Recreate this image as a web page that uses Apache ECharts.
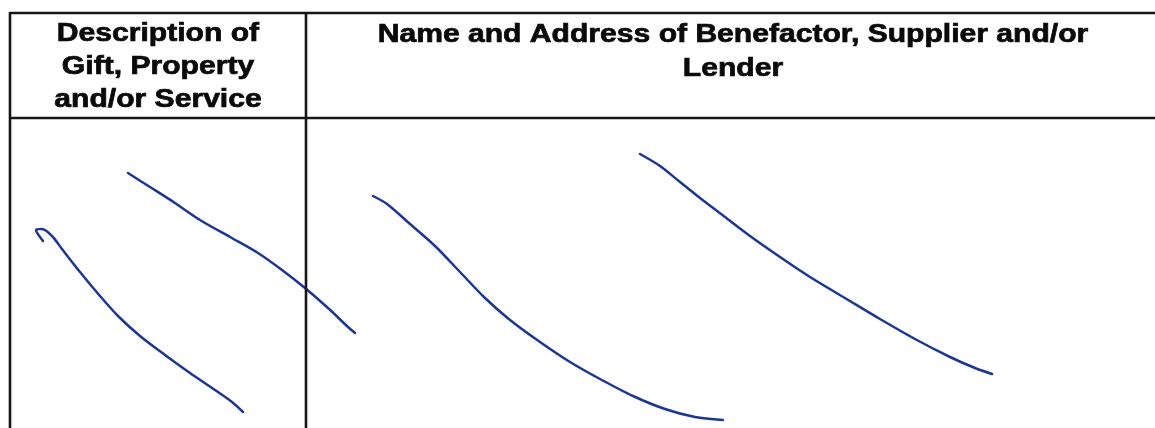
<!DOCTYPE html>
<html>
<head>
<meta charset="utf-8">
<script src="https://cdn.jsdelivr.net/npm/echarts@6/dist/echarts.min.js"></script>
<style>
  html, body { margin: 0; padding: 0; background: #ffffff; }
  #chart { width: 1155px; height: 428px; }
</style>
</head>
<body>
<div id="chart"></div>
<script>
// Header texts (one entry per printed line)
const headerCol1 = ["Description of", "Gift, Property", "and/or Service"];
const headerCol2 = ["Name and Address of Benefactor, Supplier and/or", "Lender"];

// Handwritten strokes as [x, y] in page units
const strokeA = [[43,241],[36,230],[42,229],[52,236],[62,249],[80,272],[100,296],[118,316],[140,336],[165,355],[190,373],[215,390],[232,402],[243,412]];
const strokeB = [[128,173],[150,187],[175,203],[200,220],[230,237],[258,253],[282,270],[305,288],[328,308],[348,327],[355,333]];
const strokeC = [[373,196],[387,204],[410,224],[435,246],[460,272],[485,298],[510,320],[540,342],[570,362],[600,379],[633,396],[665,409],[695,417],[723,420]];
const strokeD = [[640,154],[660,166],[680,182],[700,198],[725,217],[750,236],[780,257],[810,277],[845,298],[880,319],[915,339],[950,357],[975,368],[992,374]];

const chart = echarts.init(document.getElementById('chart'), null, { renderer: 'canvas' });

const PAGE_W = 1155, PAGE_H = 428;
const INK = '#1d3790';
const RULE = '#161616';
const FONT = 'bold 25.5px "Liberation Sans", Arial, sans-serif';
const SX = 1.18;

function headerText(lines, cx, ys) {
  return lines.map((t, i) => ({
    type: 'text',
    x: cx, y: ys[i],
    scaleX: SX,
    z: 10,
    style: {
      text: t, font: FONT, fill: '#0a0a0a',
      stroke: '#0a0a0a', lineWidth: 0.7,
      align: 'center', verticalAlign: 'middle',
      textAlign: 'center', textVerticalAlign: 'middle'
    }
  }));
}

const ruleStyle = { stroke: RULE, lineWidth: 2.6 };
const graphics = [
  { type: 'line', z: 5, shape: { x1: 10, y1: 13, x2: PAGE_W, y2: 13 }, style: ruleStyle },
  { type: 'line', z: 5, shape: { x1: 10, y1: 118, x2: PAGE_W, y2: 118 }, style: ruleStyle },
  { type: 'line', z: 5, shape: { x1: 10, y1: 12, x2: 10, y2: PAGE_H }, style: ruleStyle },
  { type: 'line', z: 5, shape: { x1: 306, y1: 12, x2: 306, y2: PAGE_H }, style: ruleStyle }
].concat(headerText(headerCol1, 158, [33.5, 67, 100]))
 .concat(headerText(headerCol2, 733, [34.5, 69]));

function stroke(name, data) {
  return {
    name, type: 'line', data,
    smooth: 0.3, showSymbol: false, silent: true,
    lineStyle: { color: INK, width: 2.5, cap: 'round', join: 'round' },
    z: 3
  };
}

chart.setOption({
  backgroundColor: '#ffffff',
  animation: false,
  grid: { left: 0, right: 0, top: 0, bottom: 0 },
  xAxis: { type: 'value', min: 0, max: PAGE_W, show: false },
  yAxis: { type: 'value', min: 0, max: PAGE_H, inverse: true, show: false },
  series: [
    stroke('A', strokeA),
    stroke('B', strokeB),
    stroke('C', strokeC),
    stroke('D', strokeD)
  ],
  graphic: graphics
});
</script>
</body>
</html>
